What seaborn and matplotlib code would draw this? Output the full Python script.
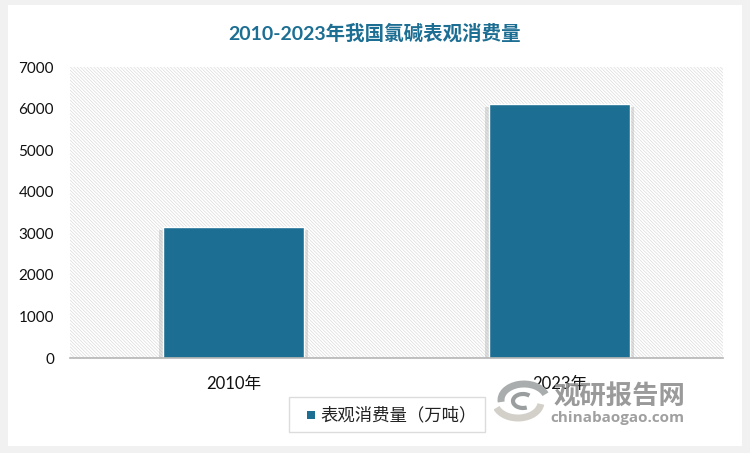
import matplotlib.pyplot as plt
import matplotlib.patheffects as pe
from matplotlib.patches import Rectangle, Arc
import seaborn as sns

sns.set_theme(style='white')
plt.rcParams['font.family'] = ['Lato', 'Noto Sans CJK SC', 'DejaVu Sans']
plt.rcParams['hatch.linewidth'] = 0.5

title = '2010-2023年我国氯碱表观消费量'
years = ['2010年', '2023年']
consumption = [3150, 6100]
series_name = '表观消费量（万吨）'
yticks = [0, 1000, 2000, 3000, 4000, 5000, 6000, 7000]

W, H = 750, 453
blue = '#1c6e93'

fig = plt.figure(figsize=(W / 100, H / 100), dpi=100, facecolor='#f1f1f1')

# 白色卡片 + 阴影
card = Rectangle((8 / W, 1 - 446 / H), 734 / W, 441 / H, transform=fig.transFigure,
                 facecolor='white', edgecolor='none', zorder=-1,
                 path_effects=[pe.SimplePatchShadow(offset=(0, 0), shadow_rgbFace='#bbbbbb', alpha=0.5),
                               pe.Normal()])
fig.add_artist(card)

ax = fig.add_axes([70 / W, 1 - 358 / H, 653 / W, 291 / H])
ax.patch.set_facecolor('white')
ax.patch.set_edgecolor('#dcdcdc')
ax.patch.set_hatch('\\\\\\\\\\\\\\\\\\\\')
ax.patch.set_linewidth(0)

sns.barplot(x=years, y=consumption, ax=ax, color=blue, saturation=1, width=0.432,
            edgecolor='white', linewidth=1.0)
for bar in ax.patches:
    # 柱子左右两侧的阴影
    bar.set_path_effects([pe.SimplePatchShadow(offset=(3, -2), shadow_rgbFace='#999999', alpha=0.3),
                          pe.SimplePatchShadow(offset=(-3, -2), shadow_rgbFace='#999999', alpha=0.3),
                          pe.Normal()])

ax.set_ylim(0, 7000)
ax.set_yticks(yticks)
ax.tick_params(axis='y', length=0, pad=11.5, labelsize=11, labelcolor='#111111')
ax.tick_params(axis='x', length=0, pad=13, labelsize=12, labelcolor='#111111')
for side in ['top', 'left', 'right']:
    ax.spines[side].set_visible(False)
ax.spines['bottom'].set_color('#b5b5b5')
ax.spines['bottom'].set_linewidth(1.2)

fig.text(375 / W, 1 - 33 / H, title, ha='center', va='center', fontsize=14,
         fontweight='bold', color=blue)

# 图例框
fig.add_artist(Rectangle((289 / W, 1 - 432 / H), 196 / W, 35 / H, transform=fig.transFigure,
                         facecolor='white', edgecolor='#dcdcdc', linewidth=1))
fig.add_artist(Rectangle((307 / W, 1 - 419 / H), 8 / W, 8 / H, transform=fig.transFigure,
                         facecolor=blue, edgecolor='none'))
fig.text(320 / W, 1 - 415 / H, series_name, ha='left', va='center', fontsize=12.5, color='#222222')

# 水印
fig.text(619 / W, 1 - 396 / H, '观研报告网', ha='center', va='center', fontsize=19,
         fontweight='bold', color='#8f8f8f', alpha=0.9)
fig.text(617 / W, 1 - 418 / H, 'chinabaogao.com', ha='center', va='center', fontsize=11,
         fontweight='bold', color='#a0a0a0', family=['Open Sans', 'DejaVu Sans'])
logo = fig.add_axes([494 / W, 1 - 423 / H, 56 / W, 44 / H])
logo.axis('off')
logo.set_xlim(0, 56)
logo.set_ylim(0, 44)
logo.add_patch(Arc((30, 23), 46, 32, theta1=15, theta2=185, lw=5, color='#a9adad'))
logo.add_patch(Arc((24, 21), 46, 32, theta1=195, theta2=355, lw=5, color='#d2d0c8'))
logo.add_patch(Arc((29, 22), 20, 14, theta1=40, theta2=300, lw=3, color='#9a9e9e'))

fig.savefig('out.png', dpi=100, facecolor=fig.get_facecolor())
